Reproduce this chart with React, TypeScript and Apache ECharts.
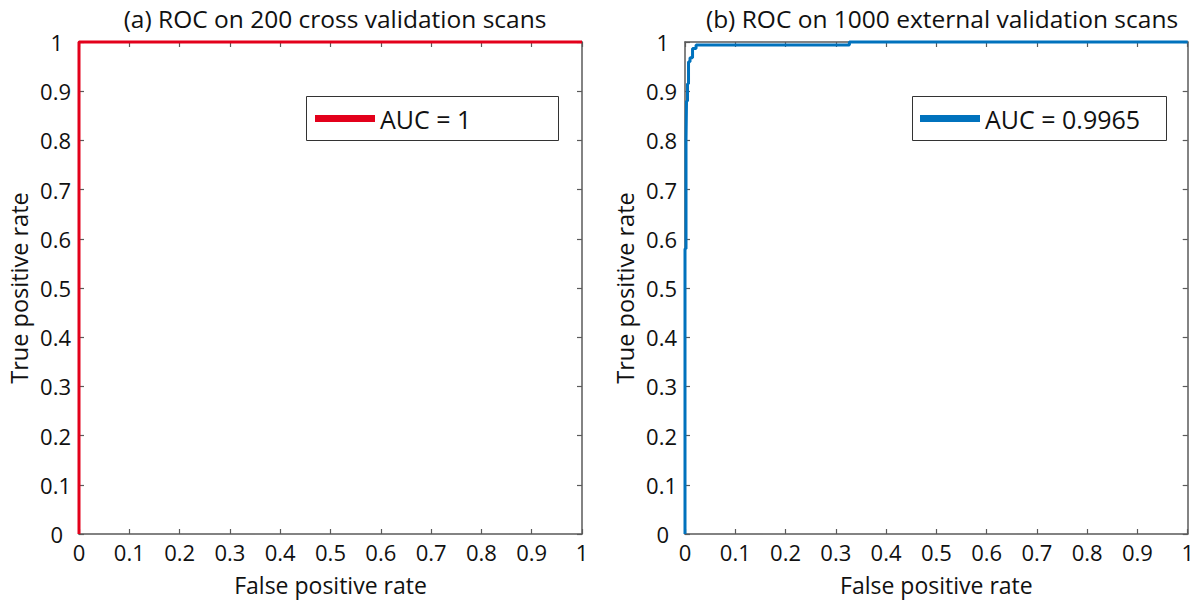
import React, { useEffect, useRef } from "react";
import * as echarts from "echarts";

const xTicks = [0, 0.1, 0.2, 0.3, 0.4, 0.5, 0.6, 0.7, 0.8, 0.9, 1];
const yTicks = [0, 0.1, 0.2, 0.3, 0.4, 0.5, 0.6, 0.7, 0.8, 0.9, 1];
const titles = ["(a) ROC on 200 cross validation scans", "(b) ROC on 1000 external validation scans"];
const seriesNames = ["AUC = 1", "AUC = 0.9965"];
const xName = "False positive rate";
const yName = "True positive rate";

// ROC (a): [fpr, tpr]
const rocA = [
  [0, 0],
  [0, 1],
  [1, 1],
];
// ROC (b): [fpr, tpr]
const rocB = [
  [0, 0],
  [0, 0.58],
  [0.002, 0.58],
  [0.002, 0.8],
  [0.003, 0.8],
  [0.003, 0.88],
  [0.005, 0.88],
  [0.005, 0.915],
  [0.007, 0.915],
  [0.007, 0.96],
  [0.01, 0.96],
  [0.01, 0.968],
  [0.015, 0.968],
  [0.015, 0.987],
  [0.022, 0.987],
  [0.022, 0.994],
  [0.327, 0.994],
  [0.327, 1],
  [1, 1],
];

const FONT = "Open Sans";
const AXIS_COLOR = "#5a5a5a";
const RED = "#e3001b";
const BLUE = "#0072bd";
const TXT = "#111";

const fmt = (v: number) => {
  const idx = xTicks.findIndex((t) => Math.abs(t - v) < 1e-9);
  return idx >= 0 ? String(xTicks[idx]) : "";
};
const fmtY = (v: number) => {
  const idx = yTicks.findIndex((t) => Math.abs(t - v) < 1e-9);
  if (idx < 0) return "";
  const s = String(yTicks[idx]);
  return s.length === 1 ? "{e|" + s + "}" : "{n|" + s + "}";
};

function mainX(gridIndex: number) {
  return {
    type: "value",
    gridIndex,
    min: 0,
    max: 1,
    interval: 0.1,
    position: "bottom",
    name: xName,
    nameLocation: "middle",
    nameGap: 39,
    nameTextStyle: { fontFamily: FONT, fontSize: 23, lineHeight: 23, color: TXT },
    axisLine: { show: true, onZero: false, lineStyle: { color: AXIS_COLOR, width: 1.5 } },
    axisTick: { show: true, inside: true, length: 5, lineStyle: { color: AXIS_COLOR, width: 1.2 } },
    axisLabel: { formatter: fmt, margin: 7, fontFamily: FONT, fontSize: 22, lineHeight: 22, color: TXT },
    splitLine: { show: false },
  };
}
function topX(gridIndex: number) {
  return {
    type: "value",
    gridIndex,
    min: 0,
    max: 1,
    interval: 0.1,
    position: "top",
    axisLine: { show: true, onZero: false, lineStyle: { color: AXIS_COLOR, width: 1.5 } },
    axisTick: { show: true, inside: true, length: 5, lineStyle: { color: AXIS_COLOR, width: 1.2 } },
    axisLabel: { show: false },
    splitLine: { show: false },
  };
}
function mainY(gridIndex: number) {
  return {
    type: "value",
    gridIndex,
    min: 0,
    max: 1,
    interval: 0.1,
    position: "left",
    name: yName,
    nameLocation: "middle",
    nameGap: 48,
    nameTextStyle: { fontFamily: FONT, fontSize: 23.5, lineHeight: 24, color: TXT },
    axisLine: { show: true, onZero: false, lineStyle: { color: AXIS_COLOR, width: 1.5 } },
    axisTick: { show: true, inside: true, length: 5, lineStyle: { color: AXIS_COLOR, width: 1.2 } },
    axisLabel: {
      formatter: fmtY,
      margin: 8,
      fontFamily: FONT,
      fontSize: 22,
      lineHeight: 22,
      color: TXT,
      rich: {
        n: { fontFamily: FONT, fontSize: 22, lineHeight: 22, color: TXT },
        e: { fontFamily: FONT, fontSize: 22, lineHeight: 22, color: TXT, padding: [0, 8, 0, 0] },
      },
    },
    splitLine: { show: false },
  };
}
function rightY(gridIndex: number) {
  return {
    type: "value",
    gridIndex,
    min: 0,
    max: 1,
    interval: 0.1,
    position: "right",
    axisLine: { show: true, onZero: false, lineStyle: { color: AXIS_COLOR, width: 1.5 } },
    axisTick: { show: true, inside: true, length: 5, lineStyle: { color: AXIS_COLOR, width: 1.2 } },
    axisLabel: { show: false },
    splitLine: { show: false },
  };
}

export default function App() {
  const ref = useRef<HTMLDivElement>(null);
  useEffect(() => {
    if (!ref.current) return;
    const chart = echarts.init(ref.current, null, { renderer: "svg" });
    const legendText = { fontFamily: FONT, fontSize: 25, color: TXT, lineHeight: 26 };
    chart.setOption({
      animation: false,
      backgroundColor: "#fff",
      title: [
        {
          text: titles[0],
          left: 330,
          top: 1,
          textAlign: "center",
          textStyle: { fontFamily: FONT, fontSize: 24.5, fontWeight: "normal", color: TXT },
        },
        {
          text: titles[1],
          left: 937,
          top: 1,
          textAlign: "center",
          textStyle: { fontFamily: FONT, fontSize: 24.5, fontWeight: "normal", color: TXT },
        },
      ],
      grid: [
        { left: 79, top: 42, width: 503, height: 495 },
        { left: 685, top: 42, width: 504, height: 495 },
      ],
      xAxis: [mainX(0), topX(0), mainX(1), topX(1)],
      yAxis: [mainY(0), rightY(0), mainY(1), rightY(1)],
      legend: [
        {
          data: [seriesNames[0]],
          left: 315,
          top: 105.5,
          padding: 0,
          itemWidth: 60,
          itemHeight: 7,
          icon: "rect",
          textStyle: legendText,
          selectedMode: false,
          z: 10,
        },
        {
          data: [seriesNames[1]],
          left: 920,
          top: 105.5,
          padding: 0,
          itemWidth: 60,
          itemHeight: 7,
          icon: "rect",
          textStyle: legendText,
          selectedMode: false,
          z: 10,
        },
      ],
      graphic: [
        {
          type: "rect",
          shape: { x: 306.5, y: 96.5, width: 252, height: 44 },
          style: { fill: "#fff", stroke: "#333", lineWidth: 1 },
          z: 1,
        },
        {
          type: "rect",
          shape: { x: 912.5, y: 96.5, width: 254, height: 44 },
          style: { fill: "#fff", stroke: "#333", lineWidth: 1 },
          z: 1,
        },
      ],
      series: [
        {
          name: seriesNames[0],
          type: "line",
          xAxisIndex: 0,
          yAxisIndex: 0,
          data: rocA,
          showSymbol: false,
          symbol: "none",
          clip: false,
          color: RED,
          lineStyle: { color: RED, width: 3 },
          z: 3,
        },
        {
          name: seriesNames[1],
          type: "line",
          xAxisIndex: 2,
          yAxisIndex: 2,
          data: rocB,
          showSymbol: false,
          symbol: "none",
          clip: false,
          color: BLUE,
          lineStyle: { color: BLUE, width: 3 },
          z: 3,
        },
      ],
    });
    return () => chart.dispose();
  }, []);
  return (
    <div
      ref={ref}
      style={{ position: "fixed", left: 0, top: 0, width: 1197, height: 601, background: "#fff" }}
    />
  );
}
